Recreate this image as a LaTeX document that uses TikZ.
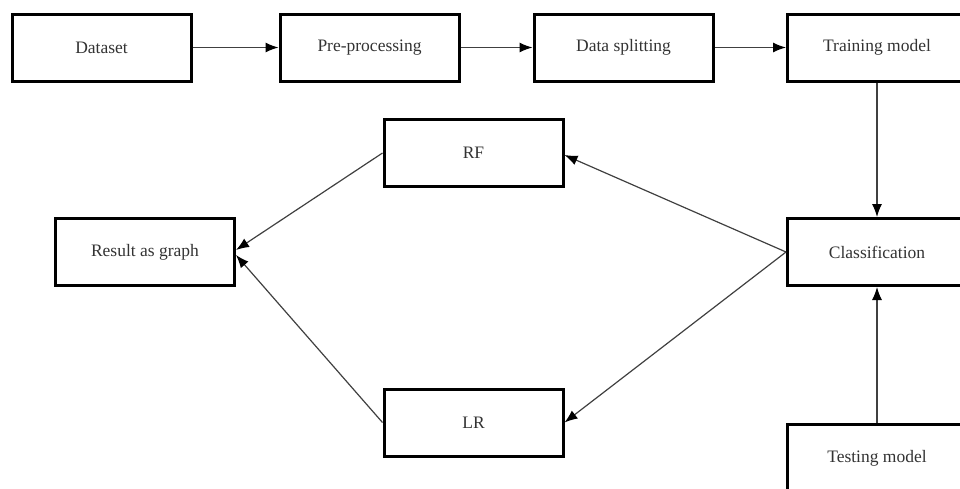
\documentclass[tikz,border=0pt]{standalone}
\usepackage{fontspec}
\setmainfont{Liberation Serif}
\usetikzlibrary{arrows.meta}
\begin{document}
\begin{tikzpicture}[x=1pt,y=-1pt,
  box/.style={draw=black, line width=3pt, fill=white, minimum width=179pt, minimum height=67pt,
    inner sep=0pt, text=black!80, font=\fontsize{17.5}{20}\selectfont},
  conn/.style={draw=black!75, line width=1.2pt, -{Latex[length=13pt,width=10pt,fill=black,color=black]}}]
\useasboundingbox (0,0) rectangle (960,488);
\node[box] (ds) at (101.5,47.5) {Dataset};
\node[box] (pp) at (369.5,47.5) {Pre-processing};
\node[box] (sp) at (623.5,47.5) {Data splitting};
\node[box] (tr) at (877,47.5) {Training model};
\node[box] (rf) at (473.5,153) {RF};
\node[box] (rg) at (145,252) {Result as graph};
\node[box] (cl) at (877,252) {Classification};
\node[box] (lr) at (473.5,422.5) {LR};
\node[box] (te) at (877,458) {Testing model};
\draw[conn] (ds) -- (pp);
\draw[conn] (pp) -- (sp);
\draw[conn] (sp) -- (tr);
\draw[conn] (tr) -- (cl);
\draw[conn] (te) -- (cl);
\draw[conn] (cl.west) -- ([yshift=-2pt]rf.east);
\draw[conn] (cl.west) -- (lr.east);
\draw[conn] (rf.west) -- ([yshift=2pt]rg.east);
\draw[conn] (lr.west) -- ([yshift=-3pt]rg.east);
\end{tikzpicture}
\end{document}
